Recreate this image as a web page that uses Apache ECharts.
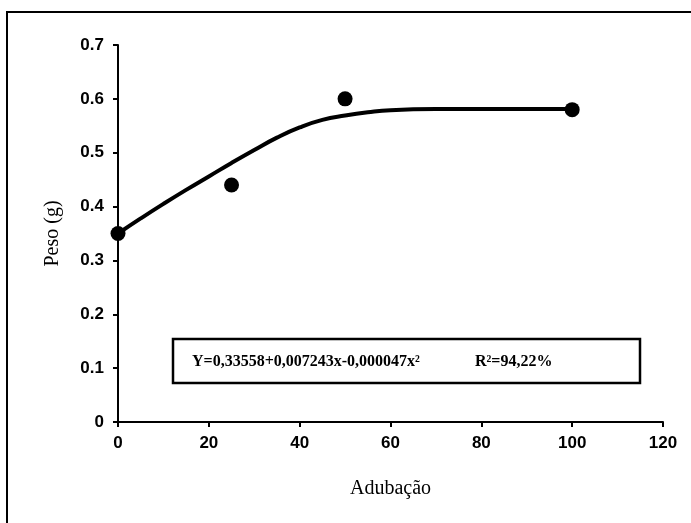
<!DOCTYPE html>
<html>
<head>
<meta charset="utf-8">
<script src="https://cdn.jsdelivr.net/npm/echarts@6/dist/echarts.min.js"></script>
<style>
  html, body { margin: 0; padding: 0; background: #fff; }
  #chart { width: 691px; height: 523px; }
</style>
</head>
<body>
<div id="chart"></div>
<script>
// observed points
const obsX = [0, 25, 50, 100];
const obsY = [0.35, 0.44, 0.60, 0.58];

// fitted curve
const fitX = [0, 5, 10, 15, 20, 25, 30, 35, 40, 45, 50, 55, 60, 70, 80, 90, 100];
const fitY = [0.35, 0.378, 0.405, 0.431, 0.456, 0.481, 0.505, 0.528, 0.547, 0.561, 0.569, 0.575, 0.579, 0.581, 0.581, 0.581, 0.581];

const equationText = "Y=0,33558+0,007243x-0,000047x²";
const r2Text = "R²=94,22%";

const chart = echarts.init(document.getElementById("chart"));

// tick label style (bold sans like Arial)
const tickFont = {
  color: "#000",
  fontFamily: "Liberation Sans",
  fontWeight: "bold",
  fontSize: 17,
};

chart.setOption({
  animation: false,
  grid: { left: 118, right: 28, top: 45, bottom: 101 },
  xAxis: {
    type: "value",
    min: 0,
    max: 120,
    interval: 20,
    name: "Adubação",
    nameLocation: "middle",
    nameGap: 57,
    nameTextStyle: { color: "#000", fontFamily: "Liberation Serif", fontSize: 20 },
    axisLine: { onZero: false, lineStyle: { color: "#000", width: 2 } },
    axisTick: { show: true, length: 5, lineStyle: { color: "#000", width: 2 } },
    axisLabel: Object.assign({ margin: 13 }, tickFont),
    splitLine: { show: false },
  },
  yAxis: {
    type: "value",
    min: 0,
    max: 0.7,
    interval: 0.1,
    name: "Peso (g)",
    nameLocation: "middle",
    nameGap: 55,
    nameRotate: 90,
    nameTextStyle: { color: "#000", fontFamily: "Liberation Serif", fontSize: 20 },
    axisLine: { show: true, lineStyle: { color: "#000", width: 2 } },
    axisTick: { show: true, length: 5, lineStyle: { color: "#000", width: 2 } },
    axisLabel: Object.assign({ margin: 14, formatter: (v) => (v === 0 ? "0" : v.toFixed(1)) }, tickFont),
    splitLine: { show: false },
  },
  series: [
    {
      type: "line",
      data: fitX.map((x, i) => [x, fitY[i]]),
      smooth: true,
      showSymbol: false,
      lineStyle: { color: "#000", width: 4 },
      z: 2,
    },
    {
      type: "scatter",
      data: obsX.map((x, i) => [x, obsY[i]]),
      symbolSize: 15,
      itemStyle: { color: "#000", opacity: 1 },
      z: 3,
    },
  ],
  graphic: [
    // outer frame (only top and left edges visible in the picture)
    {
      type: "rect",
      shape: { x: 7, y: 12, width: 700, height: 530 },
      style: { fill: "none", stroke: "#000", lineWidth: 2 },
    },
    // equation box
    {
      type: "rect",
      shape: { x: 173, y: 339, width: 467, height: 44 },
      style: { fill: "#fff", stroke: "#000", lineWidth: 2.5 },
      z: 10,
    },
    {
      type: "text",
      left: 192,
      top: 354,
      style: { text: equationText, fill: "#000", fontFamily: "Liberation Serif", fontWeight: "bold", fontSize: 16 },
      z: 11,
    },
    {
      type: "text",
      left: 475,
      top: 354,
      style: { text: r2Text, fill: "#000", fontFamily: "Liberation Serif", fontWeight: "bold", fontSize: 16 },
      z: 11,
    },
  ],
});
</script>
</body>
</html>
